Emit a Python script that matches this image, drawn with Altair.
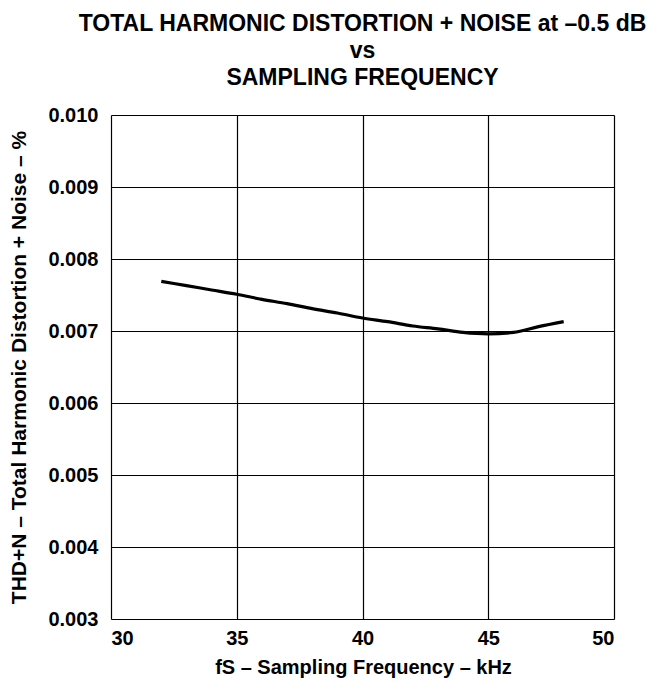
import altair as alt
import pandas as pd

freq_khz = [32, 33, 34, 35, 36, 37, 38, 39, 40, 41, 42, 43, 44, 45, 46, 47, 48]
thdn_pct = [0.00769, 0.00763, 0.00757, 0.00751, 0.00744, 0.00738, 0.00731, 0.00725, 0.00718, 0.00713, 0.00707, 0.00703, 0.00698, 0.00696, 0.00698, 0.00706, 0.00713]

x_ticks = [30, 35, 40, 45, 50]
y_ticks = [0.003, 0.004, 0.005, 0.006, 0.007, 0.008, 0.009, 0.010]

df = pd.DataFrame({"f": freq_khz, "thd": thdn_pct})

FONT = "Liberation Sans"

line = alt.Chart(df).mark_line(color="#000000", strokeWidth=3.2, interpolate="monotone").encode(
    x=alt.X("f:Q", scale=alt.Scale(domain=[30, 50], nice=False),
            axis=alt.Axis(values=x_ticks, title="fS – Sampling Frequency – kHz", format="d",
                          grid=True, gridColor="#000000", gridWidth=1.2, gridOpacity=1,
                          ticks=False, domain=False, labelPadding=9, labelBaseline="top",
                          labelFont=FONT, labelFontSize=20, labelFontWeight="bold", labelColor="#000000",
                          titleFont=FONT, titleFontSize=20, titleFontWeight="bold", titleColor="#000000",
                          titleX=252, titleY=48, titleBaseline="middle")),
    y=alt.Y("thd:Q", scale=alt.Scale(domain=[0.003, 0.010], nice=False),
            axis=alt.Axis(values=y_ticks, title="THD+N – Total Harmonic Distortion + Noise – %", format=".3f",
                          grid=True, gridColor="#000000", gridWidth=1.2, gridOpacity=1,
                          ticks=False, domain=False, labelPadding=13,
                          labelFont=FONT, labelFontSize=20, labelFontWeight="bold", labelColor="#000000",
                          titleFont=FONT, titleFontSize=21, titleFontWeight="bold", titleColor="#000000",
                          titleX=-92, titleY=252, titleAngle=-90, titleBaseline="middle")),
)

chart = line.properties(
    width=503, height=504,
    title=alt.Title(["TOTAL HARMONIC DISTORTION + NOISE at –0.5 dB", "vs", "SAMPLING FREQUENCY"],
                    font=FONT, fontSize=23, fontWeight="bold", color="#000000",
                    anchor="middle", offset=15, lineHeight=27),
    autosize=alt.AutoSizeParams(type="none"),
    padding={"left": 103, "top": 107, "right": 36, "bottom": 63},
).configure_view(stroke="#000000", strokeWidth=2.8).configure(background="#ffffff")

chart.save("out.html", embed_options={"renderer": "svg", "actions": False})
